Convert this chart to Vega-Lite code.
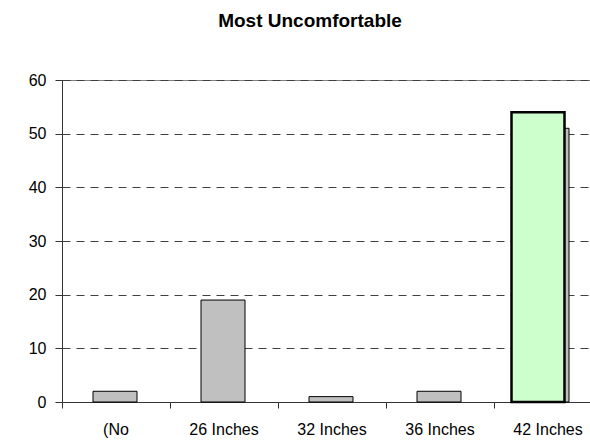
{
  "$schema": "https://vega.github.io/schema/vega-lite/v6.json",
  "autosize": "none",
  "padding": {"left": 62, "top": 80, "right": 0, "bottom": 40},
  "width": 540,
  "height": 322,
  "background": "white",
  "title": {
    "text": "Most Uncomfortable",
    "font": "Liberation Sans",
    "fontSize": 19,
    "fontWeight": "bold",
    "color": "#000000",
    "anchor": "middle",
    "dx": -22,
    "offset": 41
  },
  "config": {
    "view": {"stroke": "#808080", "strokeWidth": 1},
    "axis": {
      "labelFont": "Liberation Sans",
      "labelFontSize": 16,
      "labelColor": "#000000",
      "domainColor": "#333333",
      "tickColor": "#333333",
      "title": null
    }
  },
  "data": {
    "values": [
      {"category": "(No", "value": 2, "series": "base"},
      {"category": "26 Inches", "value": 19, "series": "base"},
      {"category": "32 Inches", "value": 1, "series": "base"},
      {"category": "36 Inches", "value": 2, "series": "base"},
      {"category": "42 Inches", "value": 51, "series": "base"},
      {"category": "42 Inches", "value": 54, "series": "highlight"}
    ]
  },
  "encoding": {
    "x": {
      "field": "category",
      "type": "nominal",
      "sort": null,
      "scale": {"paddingInner": 0, "paddingOuter": 0},
      "axis": {
        "labelAngle": 0,
        "tickSize": 6,
        "labelPadding": 13,
        "bandPosition": 0,
        "grid": false,
        "title": null
      }
    },
    "y": {
      "field": "value",
      "type": "quantitative",
      "scale": {"domain": [0, 60], "nice": false},
      "axis": {
        "values": [0, 10, 20, 30, 40, 50, 60],
        "tickSize": 7,
        "labelPadding": 9,
        "grid": true,
        "gridColor": "#404040",
        "gridDash": [8, 6],
        "title": null
      }
    }
  },
  "layer": [
    {
      "transform": [{"filter": "datum.series === 'base'"}],
      "mark": {"type": "bar", "size": 44, "xOffset": -1, "fill": "#c0c0c0", "stroke": "#000000", "strokeWidth": 1}
    },
    {
      "transform": [{"filter": "datum.series === 'highlight'"}],
      "mark": {"type": "bar", "size": 53, "xOffset": -10, "fill": "#ccffcc", "stroke": "#000000", "strokeWidth": 2.5}
    }
  ]
}
